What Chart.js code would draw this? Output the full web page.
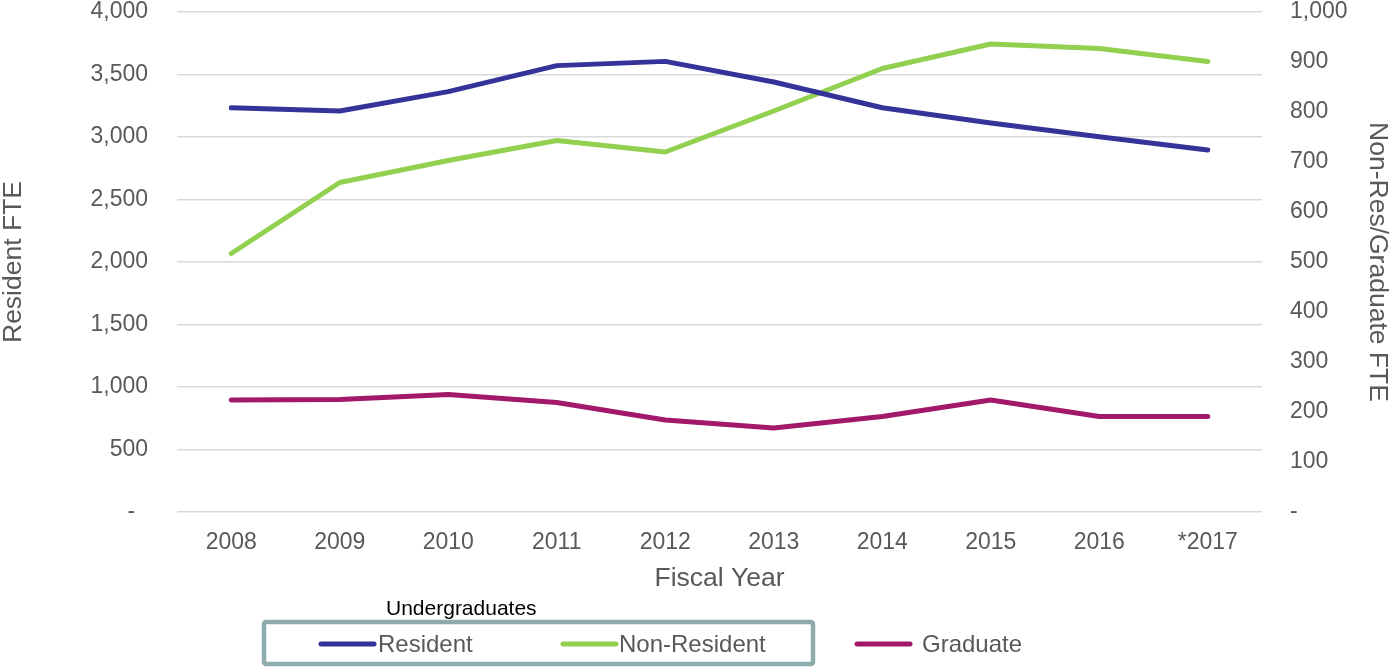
<!DOCTYPE html>
<html>
<head>
<meta charset="utf-8">
<script src="https://cdn.jsdelivr.net/npm/chart.js@4"></script>
<style>
  html, body { margin: 0; padding: 0; background: #fff; }
  #wrap { width: 1391px; height: 667px; position: relative; }
</style>
</head>
<body>
<div id="wrap"><canvas id="c"></canvas></div>
<script>
const years = ['2008', '2009', '2010', '2011', '2012', '2013', '2014', '2015', '2016', '*2017'];
const resident = [3234, 3208, 3363, 3571, 3605, 3440, 3234, 3112, 3002, 2896];
const nonResident = [517, 659, 703, 743, 720, 802, 887, 936, 927, 901];
const graduate = [224, 225, 235, 219, 184, 168, 191, 224, 191, 191];
const seriesLabels = ['Resident', 'Non-Resident', 'Graduate'];
const legendGroupTitle = 'Undergraduates';

const TEXT = '#595959';
const FONT = '"Liberation Sans", Arial, sans-serif';

function fmt(v, pad) {
  if (v === 0) return pad ? '-  ' : '-';
  return v.toLocaleString('en-US');
}

const customLegend = {
  id: 'customLegend',
  afterDraw(chart) {
    const ctx = chart.ctx;
    const ds = chart.data.datasets;
    ctx.save();
    ctx.strokeStyle = '#8eaaab';
    ctx.lineWidth = 4.5;
    ctx.beginPath();
    if (ctx.roundRect) ctx.roundRect(264, 622, 549, 42, 2); else ctx.rect(264, 622, 549, 42);
    ctx.stroke();
    ctx.fillStyle = '#000';
    ctx.font = '21px ' + FONT;
    ctx.textAlign = 'left';
    ctx.textBaseline = 'alphabetic';
    ctx.fillText(legendGroupTitle, 386, 615);
    const items = [
      { x0: 321, x1: 374, tx: 378 },
      { x0: 563, x1: 616, tx: 619 },
      { x0: 857, x1: 910, tx: 922 }
    ];
    ctx.font = '24px ' + FONT;
    ctx.textBaseline = 'middle';
    items.forEach((it, i) => {
      ctx.strokeStyle = ds[i].borderColor;
      ctx.lineWidth = 5;
      ctx.lineCap = 'round';
      ctx.beginPath();
      ctx.moveTo(it.x0, 644);
      ctx.lineTo(it.x1, 644);
      ctx.stroke();
      ctx.fillStyle = TEXT;
      ctx.fillText(ds[i].label, it.tx, 645);
    });
    ctx.restore();
  }
};

new Chart(document.getElementById('c'), {
  type: 'line',
  data: {
    labels: years,
    datasets: [
      { label: seriesLabels[0], data: resident, yAxisID: 'yL', borderColor: '#333399', order: 1 },
      { label: seriesLabels[1], data: nonResident, yAxisID: 'yR', borderColor: '#92d050', order: 2 },
      { label: seriesLabels[2], data: graduate, yAxisID: 'yR', borderColor: '#a2196a', order: 3 }
    ]
  },
  options: {
    responsive: true,
    maintainAspectRatio: false,
    animation: false,
    events: [],
    layout: { padding: { top: 12, bottom: 70, left: 0, right: 0 } },
    elements: {
      line: { borderWidth: 5, tension: 0, borderCapStyle: 'round', borderJoinStyle: 'round', fill: false },
      point: { radius: 0, hoverRadius: 0 }
    },
    plugins: {
      legend: { display: false },
      tooltip: { enabled: false }
    },
    scales: {
      x: {
        offset: true,
        grid: { display: false, drawTicks: false, tickLength: 0 },
        border: { display: false },
        ticks: { color: TEXT, font: { family: FONT, size: 23, lineHeight: 1 }, padding: 19.5, maxRotation: 0, autoSkip: false },
        title: { display: true, text: 'Fiscal Year', color: TEXT, font: { family: FONT, size: 26.5, lineHeight: 1 }, padding: { top: 0, bottom: 5 } },
        afterFit(s) { s.height = 85; }
      },
      yL: {
        position: 'left',
        min: 0, max: 4000,
        grid: { color: '#d9d9d9', lineWidth: 1.5, drawTicks: true, tickLength: 29, tickColor: 'rgba(0,0,0,0)' },
        border: { display: false },
        ticks: { stepSize: 500, color: TEXT, font: { family: FONT, size: 23, lineHeight: 1 }, padding: 0, callback: v => fmt(v, true) },
        title: { display: true, text: 'Resident FTE', color: TEXT, font: { family: FONT, size: 26.5, lineHeight: 1 }, padding: { top: 0, bottom: 0 } },
        afterFit(s) { s.width = 177; }
      },
      yR: {
        position: 'right',
        min: 0, max: 1000,
        grid: { drawOnChartArea: false, drawTicks: true, tickLength: 28, tickColor: 'rgba(0,0,0,0)' },
        border: { display: false },
        ticks: { stepSize: 100, color: TEXT, font: { family: FONT, size: 23, lineHeight: 1 }, padding: 0, callback: v => fmt(v, false) },
        title: { display: true, text: 'Non-Res/Graduate FTE', color: TEXT, font: { family: FONT, size: 26.5, lineHeight: 1 }, padding: { top: 0, bottom: 0 } },
        afterFit(s) { s.width = 129; }
      }
    }
  },
  plugins: [customLegend]
});
</script>
</body>
</html>
